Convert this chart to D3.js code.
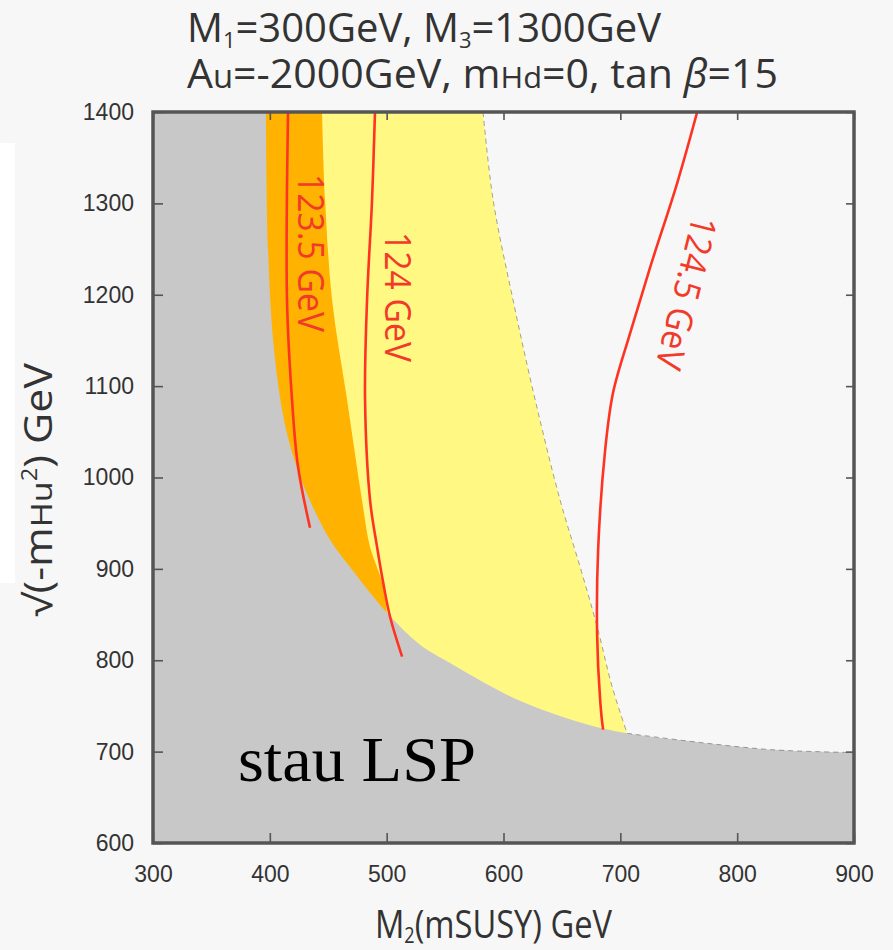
<!DOCTYPE html>
<html>
<head>
<meta charset="utf-8">
<script src="https://cdn.jsdelivr.net/npm/d3@7"></script>
<style>
  body { margin: 0; background: #f7f7f7; }
  text { font-family: "Open Sans", "Liberation Sans", Arial, sans-serif; }
</style>
</head>
<body>
<div id="chart"></div>
<script>
// axis ticks
var xTicks = [300, 400, 500, 600, 700, 800, 900];
var yTicks = [600, 700, 800, 900, 1000, 1100, 1200, 1300, 1400];

// region boundaries, [M2, sqrt(-mHu^2)]
var stauEdge = [[396.7,1400],[398.5,1249],[403.6,1140],[412.2,1063],[422.4,1014],[436.1,970],
  [451.5,932],[468.7,902],[500.3,852],[528.6,817],[554.3,797],[611.6,757],[668.2,731],
  [705.8,720],[768.3,710],[830.8,702],[900,699]];
var orangeEdge = [[444.7,1400],[447.3,1304],[453.3,1194],[466.1,1085],[478.9,975],
  [485.8,924],[496.1,885],[500.3,852]];
var yellowEdge = [[582.5,1400],[591.1,1304],[608.2,1194],[627.1,1085],[648.5,975],
  [665.6,902],[680.1,837],[693,771],[705.8,720]];

// higgs mass contours
var mh1235 = [[415.6,1400],[414.7,1194],[419,1085],[424.1,1012],[434.4,945]];
var mh124 = [[490,1400],[487.5,1304],[483.2,1194],[481.5,1085],[485.8,975],[491.8,924],
  [497,885],[503,847],[513.2,804]];
var mh1245 = [[765.8,1400],[748.6,1322],[725.5,1230],[708.4,1158],[693.8,1093],[687,1030],
  [681,921],[680.1,830],[682.7,757],[685.3,724]];

var svg = d3.select("#chart").append("svg")
  .attr("width", 893).attr("height", 950);

svg.append("rect").attr("width", 893).attr("height", 950).attr("fill", "#f7f7f7");
// white strip at the left edge of the scan
svg.append("rect").attr("x", 0).attr("y", 143).attr("width", 15).attr("height", 440).attr("fill", "#ffffff");

var x = d3.scaleLinear().domain([300, 900]).range([153, 854]);
var y = d3.scaleLinear().domain([600, 1400]).range([843, 112]);

svg.append("clipPath").attr("id", "plotclip")
  .append("rect")
    .attr("x", x(300)).attr("y", y(1400))
    .attr("width", x(900) - x(300)).attr("height", y(600) - y(1400));

var plot = svg.append("g").attr("clip-path", "url(#plotclip)");

var smooth = d3.line()
  .x(function(d) { return x(d[0]) })
  .y(function(d) { return y(d[1]) })
  .curve(d3.curveCatmullRom);

// close an edge down to the bottom and back along the left axis
function fillTo(edge) {
  var last = edge[edge.length - 1];
  return smooth(edge) +
    "L" + x(last[0]) + "," + y(600) +
    "L" + x(300) + "," + y(600) +
    "L" + x(300) + "," + y(1400) + "Z";
}

plot.append("path").attr("d", fillTo(yellowEdge)).attr("fill", "#fff984");
plot.append("path").attr("d", fillTo(orangeEdge)).attr("fill", "#ffb200");
plot.append("path").attr("d", fillTo(stauEdge)).attr("fill", "#c8c8c8");

// faint dashed contour edges
plot.append("path").attr("d", smooth(yellowEdge))
  .attr("fill", "none").attr("stroke", "#666").attr("stroke-width", 1)
  .attr("stroke-dasharray", "5,4").attr("opacity", 0.6);
plot.append("path").attr("d", smooth(stauEdge.slice(13)))
  .attr("fill", "none").attr("stroke", "#666").attr("stroke-width", 1)
  .attr("stroke-dasharray", "5,4").attr("opacity", 0.6);

// red higgs mass lines
[mh1235, mh124, mh1245].forEach(function(pts) {
  plot.append("path").attr("d", smooth(pts))
    .attr("fill", "none")
    .attr("stroke", "#ff3322")
    .attr("stroke-width", 2.6);
});

// contour labels
var labels = [
  {text: "123.5 GeV", x: 298, y: 253, angle: 90, len: 158},
  {text: "124 GeV", x: 385, y: 297, angle: 90, len: 130},
  {text: "124.5 GeV", x: 674, y: 290, angle: 104, len: 156}
];
svg.append("g").selectAll("text")
  .data(labels)
  .enter()
  .append("text")
    .attr("transform", function(d) { return "translate(" + d.x + "," + d.y + ") rotate(" + d.angle + ")" })
    .attr("text-anchor", "middle")
    .attr("font-size", 36)
    .attr("fill", "#f23a2a")
    .attr("textLength", function(d) { return d.len })
    .attr("lengthAdjust", "spacingAndGlyphs")
    .text(function(d) { return d.text });

// stau LSP label
svg.append("text")
  .attr("x", 238).attr("y", 781)
  .attr("font-size", 64)
  .attr("textLength", 238).attr("lengthAdjust", "spacingAndGlyphs")
  .style("font-family", "'Liberation Serif', 'DejaVu Serif', serif")
  .attr("fill", "#000")
  .text("stau LSP");

// axes with inward ticks
function styleAxis(g) {
  g.select(".domain").remove();
  g.selectAll("line").attr("stroke", "#555").attr("stroke-width", 1.6);
  g.selectAll("text").attr("font-size", 23).attr("fill", "#333")
    .style("font-family", "'Liberation Sans', Arial, sans-serif");
}
svg.append("g").attr("transform", "translate(0," + y(600) + ")")
  .call(d3.axisBottom(x).tickValues(xTicks).tickFormat(d3.format("d")).tickSize(-10).tickPadding(23))
  .call(styleAxis);
svg.append("g").attr("transform", "translate(" + x(300) + ",0)")
  .call(d3.axisLeft(y).tickValues(yTicks).tickFormat(d3.format("d")).tickSize(-10).tickPadding(19))
  .call(styleAxis);
svg.append("g").attr("transform", "translate(0," + y(1400) + ")")
  .call(d3.axisTop(x).tickValues(xTicks).tickSize(-8).tickFormat(""))
  .call(styleAxis);
svg.append("g").attr("transform", "translate(" + x(900) + ",0)")
  .call(d3.axisRight(y).tickValues(yTicks).tickSize(-8).tickFormat(""))
  .call(styleAxis);

// frame
svg.append("rect")
  .attr("x", x(300)).attr("y", y(1400))
  .attr("width", x(900) - x(300)).attr("height", y(600) - y(1400))
  .attr("fill", "none").attr("stroke", "#555").attr("stroke-width", 3.5);

// titles
var t1 = svg.append("text").attr("x", 187).attr("y", 42)
  .attr("font-size", 40).attr("fill", "#333")
  .attr("textLength", 474).attr("lengthAdjust", "spacingAndGlyphs");
t1.append("tspan").text("M");
t1.append("tspan").attr("font-size", 22).attr("dy", 6).text("1");
t1.append("tspan").attr("dy", -6).text("=300GeV, M");
t1.append("tspan").attr("font-size", 22).attr("dy", 6).text("3");
t1.append("tspan").attr("dy", -6).text("=1300GeV");

var t2 = svg.append("text").attr("x", 187).attr("y", 88)
  .attr("font-size", 40).attr("fill", "#333")
  .attr("textLength", 591).attr("lengthAdjust", "spacingAndGlyphs");
t2.append("tspan").text("A");
t2.append("tspan").attr("font-size", 32).text("u");
t2.append("tspan").text("=-2000GeV, m");
t2.append("tspan").attr("font-size", 30).text("Hd");
t2.append("tspan").text("=0, tan ");
t2.append("tspan").attr("font-style", "italic").text("\u03b2");
t2.append("tspan").text("=15");

// x axis label
var xl = svg.append("text").attr("x", 375).attr("y", 938)
  .attr("font-size", 38).attr("fill", "#333")
  .attr("textLength", 237).attr("lengthAdjust", "spacingAndGlyphs");
xl.append("tspan").text("M");
xl.append("tspan").attr("font-size", 21).attr("dy", 5).text("2");
xl.append("tspan").attr("dy", -5).text("(mSUSY) GeV");

// y axis label
var yl = svg.append("text")
  .attr("transform", "translate(52,490) rotate(-90)")
  .attr("text-anchor", "middle")
  .attr("font-size", 38).attr("fill", "#333")
  .attr("textLength", 254).attr("lengthAdjust", "spacingAndGlyphs");
yl.append("tspan").text("\u221a(-m");
yl.append("tspan").attr("font-size", 30).text("Hu");
yl.append("tspan").attr("font-size", 21).attr("dy", -15).text("2");
yl.append("tspan").attr("dy", 15).text(") GeV");
</script>
</body>
</html>
